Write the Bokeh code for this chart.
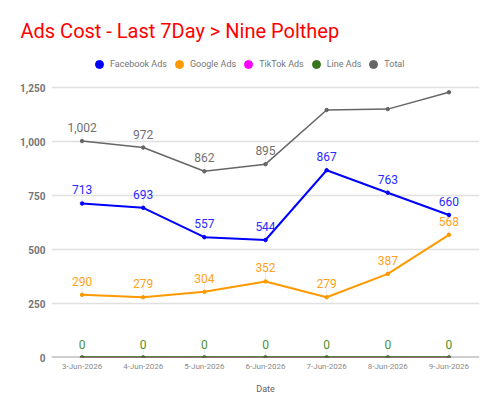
from bokeh.plotting import figure
from bokeh.models import (ColumnDataSource, FactorRange, Range1d, FixedTicker, Span,
                          NumeralTickFormatter, Legend, LegendItem, LabelSet, Title)
from bokeh.core.properties import value
from bokeh.embed import file_html
from bokeh.resources import INLINE

dates = ["3-Jun-2026", "4-Jun-2026", "5-Jun-2026", "6-Jun-2026",
         "7-Jun-2026", "8-Jun-2026", "9-Jun-2026"]
facebook = [713, 693, 557, 544, 867, 763, 660]
google = [290, 279, 304, 352, 279, 387, 568]
tiktok = [0, 0, 0, 0, 0, 0, 0]
line_ads = [0, 0, 0, 0, 0, 0, 0]
total = [1002, 972, 862, 895, 1146, 1150, 1228]
total_label_shown = [True, True, True, True, False, False, False]
y_ticks = [0, 250, 500, 750, 1000, 1250]

FONT = "Roboto"
colors = {"Facebook Ads": "#0000ff", "Google Ads": "#ff9900", "TikTok Ads": "#ff00ff",
          "Line Ads": "#38761d", "Total": "#666666"}
label_colors = {"Facebook Ads": "#2a2aff", "Google Ads": "#ffa21a",
                "Line Ads": "#4e8f33", "Total": "#707070"}

# layout geometry (pixels)
FRAME_TOP = 44
AXIS_PX = 270            # pixels from 0 to 1250
FRAME_H = 415 - 58 - FRAME_TOP
px_per_unit = AXIS_PX / 1250.0
y_end = FRAME_H / px_per_unit

p = figure(width=500, height=415, output_backend="svg", toolbar_location=None,
           x_range=FactorRange(*dates), y_range=Range1d(0, y_end),
           min_border_left=51, min_border_right=21, min_border_bottom=58,
           min_border_top=FRAME_TOP)
p.outline_line_color = None

p.title = Title(text="Ads Cost - Last 7Day > Nine Polthep", text_font=FONT,
                text_font_size="20px", text_color="#ff0000", text_font_style="normal",
                align="left", offset=-31, standoff=3)

# axes
p.yaxis.ticker = FixedTicker(ticks=y_ticks)
p.yaxis.formatter = NumeralTickFormatter(format="0,0")
p.yaxis.axis_line_color = None
p.yaxis.major_tick_line_color = None
p.yaxis.minor_tick_line_color = None
p.yaxis.major_tick_out = 0
p.yaxis.major_label_text_font = FONT
p.yaxis.major_label_text_font_size = "10px"
p.yaxis.major_label_text_font_style = "bold"
p.yaxis.major_label_text_color = "#757575"
p.yaxis.major_label_standoff = 6

p.xaxis.axis_label = "Date"
p.xaxis.axis_label_text_font = FONT
p.xaxis.axis_label_text_font_size = "9px"
p.xaxis.axis_label_text_font_style = "normal"
p.xaxis.axis_label_text_color = "#616161"
p.xaxis.axis_label_standoff = 10
p.xaxis.axis_line_color = None
p.xaxis.major_tick_line_color = None
p.xaxis.minor_tick_line_color = None
p.xaxis.major_tick_out = 0
p.xaxis.major_label_text_font = FONT
p.xaxis.major_label_text_font_size = "8px"
p.xaxis.major_label_text_color = "#8a8a8a"
p.xaxis.major_label_standoff = 4

p.xgrid.grid_line_color = None
p.ygrid.grid_line_color = "#e0e0e0"
p.ygrid.grid_line_width = 1.5

# zero baseline under the series
p.add_layout(Span(location=0, dimension="width", line_color="#9e9e9e",
                  line_width=2, level="underlay"))

series = [("Facebook Ads", facebook, 2, [True] * 7),
          ("Google Ads", google, 2, [True] * 7),
          ("TikTok Ads", tiktok, 1.5, [False] * 7),
          ("Line Ads", line_ads, 2.5, [True] * 7),
          ("Total", total, 1.5, total_label_shown)]

stem_len = 11 / px_per_unit

items = []
for name, vals, lw, shown in series:
    c = colors[name]
    sx = [d for d, s in zip(dates, shown) if s]
    sy = [v for v, s in zip(vals, shown) if s]
    if sx:
        ssrc = ColumnDataSource(dict(x=sx, y=sy, y1=[v + stem_len for v in sy]))
        p.segment(x0="x", y0="y", x1="x", y1="y1", source=ssrc,
                  line_color="#ececec", line_width=1)
    src = ColumnDataSource(dict(x=dates, y=vals))
    p.line("x", "y", source=src, line_color=c, line_width=lw)
    r = p.scatter("x", "y", source=src, size=3.5, fill_color=c, line_color=c)
    items.append(LegendItem(label=name, renderers=[r]))

# data labels
for name, vals in [("Facebook Ads", facebook), ("Google Ads", google),
                   ("Line Ads", line_ads)]:
    src = ColumnDataSource(dict(x=dates, y=vals, txt=[f"{v:,}" for v in vals]))
    p.add_layout(LabelSet(x="x", y="y", text="txt", source=src, text_align="center",
                          text_baseline="bottom", y_offset=9, text_font=value(FONT),
                          text_font_size="12px", text_color=label_colors[name]))
tx = [d for d, s in zip(dates, total_label_shown) if s]
ty = [v for v, s in zip(total, total_label_shown) if s]
tsrc = ColumnDataSource(dict(x=tx, y=ty, txt=[f"{v:,}" for v in ty]))
p.add_layout(LabelSet(x="x", y="y", text="txt", source=tsrc, text_align="center",
                      text_baseline="bottom", y_offset=9, text_font=value(FONT),
                      text_font_size="12px", text_color=label_colors["Total"]))

legend = Legend(items=items, orientation="horizontal", location=(38, 283),
                label_text_font=FONT, label_text_font_size="9px",
                label_text_color="#757575", glyph_width=20, glyph_height=20,
                label_standoff=1, spacing=2, padding=2, margin=0,
                border_line_color=None, background_fill_alpha=0)
p.add_layout(legend, "center")

open("out.html", "w").write(file_html(p, INLINE))
